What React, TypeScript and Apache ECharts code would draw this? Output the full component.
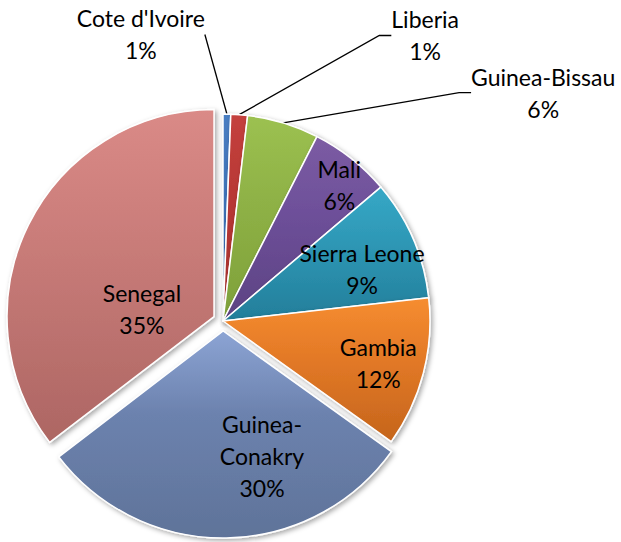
import React, { useEffect, useRef } from "react";
import * as echarts from "echarts";

// ---- data ----
const countries = [
  "Cote d'Ivoire",
  "Liberia",
  "Guinea-Bissau",
  "Mali",
  "Sierra Leone",
  "Gambia",
  "Guinea-Conakry",
  "Senegal",
];
const shares = [0.6, 1.3, 5.6, 6.3, 9.4, 11.7, 29.7, 35.4];
const explodedSlices = ["Guinea-Conakry", "Senegal"];
const outsideLabelled = ["Cote d'Ivoire", "Liberia", "Guinea-Bissau"];
const wrappedNames: Record<string, string> = { "Guinea-Conakry": "Guinea-\nConakry" };

// ---- styles ----
const gradientTop = ["#4A7EC2", "#C4403D", "#9CC151", "#7C5CA3", "#36A8C6", "#F68D30", "#8CA4D4", "#DA8A87"];
const gradientMid = ["#3E72B8", "#B83835", "#8FB246", "#6E509A", "#2E98B6", "#E47A27", "#6C82AE", "#C97C79"];
const gradientBottom = ["#2F64A8", "#A5302D", "#7EA03A", "#5C4282", "#237E9A", "#C5651C", "#5F7399", "#AD6663"];

// label placement relative to pie: [angle in degrees clockwise from 12 o'clock, distance as fraction of radius]
const labelPlacement: [number, number][] = [
  [-16, 1.44],
  [35.3, 1.69],
  [54.5, 1.9],
  [40.5, 0.865],
  [69.5, 0.717],
  [105.2, 0.777],
  [163.9, 0.68],
  [278.4, 0.396],
];

const CX = 223;
const CY = 321;
const R = 207;
const EXPLODE = 10;

export default function App() {
  const ref = useRef<HTMLDivElement>(null);

  useEffect(() => {
    if (!ref.current) return;
    const chart = echarts.init(ref.current, undefined, { renderer: "svg" });

    const total = shares.reduce((a, b) => a + b, 0);
    const midAngles: number[] = [];
    let acc = 0;
    shares.forEach((v) => {
      midAngles.push(((acc + v / 2) / total) * 2 * Math.PI);
      acc += v;
    });

    const hidden = {
      itemStyle: {
        color: "rgba(0,0,0,0)",
        borderWidth: 0,
        shadowBlur: 0,
        shadowColor: "rgba(0,0,0,0)",
      },
      label: { show: false },
      labelLine: { show: false },
    };

    const makeData = (visible: (name: string) => boolean) =>
      countries.map((name, i) => {
        if (!visible(name)) return { name, value: shares[i], ...hidden };
        const outside = outsideLabelled.includes(name);
        return {
          name,
          value: shares[i],
          itemStyle: {
            color: new echarts.graphic.LinearGradient(0, 0, 0, 1, [
              { offset: 0, color: gradientTop[i] },
              { offset: 0.4, color: gradientMid[i] },
              { offset: 1, color: gradientBottom[i] },
            ]),
          },
          label: { show: true, position: outside ? "outside" : "inside" },
          labelLine: {
            show: outside,
            length: 20,
            length2: name === "Cote d'Ivoire" ? 0 : 12,
          },
        };
      });

    const groups: { center: [number, number]; visible: (n: string) => boolean }[] = [
      { center: [CX, CY], visible: (n) => !explodedSlices.includes(n) },
      ...explodedSlices.map((ex) => {
        const i = countries.indexOf(ex);
        const a = midAngles[i];
        return {
          center: [CX + EXPLODE * Math.sin(a), CY - EXPLODE * Math.cos(a)] as [number, number],
          visible: (n: string) => n === ex,
        };
      }),
    ];

    const series = groups.map((g) => ({
      type: "pie",
      center: g.center,
      radius: R,
      startAngle: 90,
      clockwise: true,
      avoidLabelOverlap: false,
      percentPrecision: 0,
      silent: true,
      emphasis: { disabled: true },
      itemStyle: {
        borderColor: "#ffffff",
        borderWidth: 1.5,
        shadowBlur: 5,
        shadowColor: "rgba(0,0,0,0.35)",
        shadowOffsetX: 2,
        shadowOffsetY: 2,
      },
      label: {
        formatter: (p: any) =>
          `${wrappedNames[p.name] ?? p.name}\n${Math.round(p.percent)}%`,
        fontFamily: "Lato",
        fontSize: 23,
        color: "#000000",
        lineHeight: 32,
        align: "center",
      },
      labelLine: {
        lineStyle: { color: "#000000", width: 1.3 },
      },
      labelLayout: (params: any) => {
        const [a, f] = labelPlacement[params.dataIndex];
        const rad = (a * Math.PI) / 180;
        return {
          x: CX + f * R * Math.sin(rad),
          y: CY - f * R * Math.cos(rad),
          align: "center",
          verticalAlign: "middle",
        };
      },
      data: makeData(g.visible),
    }));

    chart.setOption({
      animation: false,
      backgroundColor: "#ffffff",
      series,
    });

    return () => chart.dispose();
  }, []);

  return (
    <div
      ref={ref}
      style={{ position: "absolute", left: 0, top: 0, width: 621, height: 542 }}
    />
  );
}
